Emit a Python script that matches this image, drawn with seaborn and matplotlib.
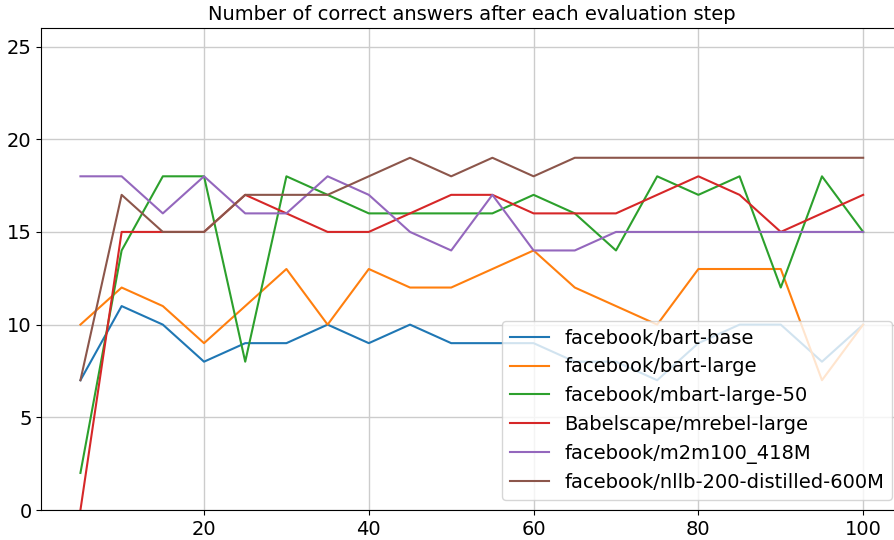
import matplotlib
matplotlib.use("Agg")
import matplotlib.pyplot as plt
import seaborn as sns
import pandas as pd

steps = [5, 10, 15, 20, 25, 30, 35, 40, 45, 50, 55, 60, 65, 70, 75, 80, 85, 90, 95, 100]

models = [
    "facebook/bart-base",
    "facebook/bart-large",
    "facebook/mbart-large-50",
    "Babelscape/mrebel-large",
    "facebook/m2m100_418M",
    "facebook/nllb-200-distilled-600M",
]

bart_base = [7, 11, 10, 8, 9, 9, 10, 9, 10, 9, 9, 9, 8, 8, 7, 9, 10, 10, 8, 10]
bart_large = [10, 12, 11, 9, 11, 13, 10, 13, 12, 12, 13, 14, 12, 11, 10, 13, 13, 13, 7, 10]
mbart_large_50 = [2, 14, 18, 18, 8, 18, 17, 16, 16, 16, 16, 17, 16, 14, 18, 17, 18, 12, 18, 15]
mrebel_large = [0, 15, 15, 15, 17, 16, 15, 15, 16, 17, 17, 16, 16, 16, 17, 18, 17, 15, 16, 17]
m2m100_418m = [18, 18, 16, 18, 16, 16, 18, 17, 15, 14, 17, 14, 14, 15, 15, 15, 15, 15, 15, 15]
nllb_600m = [7, 17, 15, 15, 17, 17, 17, 18, 19, 18, 19, 18, 19, 19, 19, 19, 19, 19, 19, 19]

series = [bart_base, bart_large, mbart_large_50, mrebel_large, m2m100_418m, nllb_600m]

rows = []
for name, vals in zip(models, series):
    for s, v in zip(steps, vals):
        rows.append({"step": s, "correct": v, "model": name})
df = pd.DataFrame(rows)

plt.rcParams["font.size"] = 14
plt.rcParams["font.family"] = ["DejaVu Sans"]

fig = plt.figure(figsize=(8.94, 5.40), dpi=100)
ax = fig.add_axes([41.3 / 894, 30 / 540, 861 / 894, 482 / 540])

sns.lineplot(data=df, x="step", y="correct", hue="model", hue_order=models,
             palette="tab10", linewidth=1.5, ax=ax, legend=True)

ax.set_xlim(0.25, 104.75)
ax.set_ylim(0, 26)
ax.set_yticks([0, 5, 10, 15, 20, 25])
ax.set_xticks([20, 40, 60, 80, 100])
ax.grid(True, color="#cccccc", linewidth=1.0)
ax.set_axisbelow(True)
ax.set_xlabel("")
ax.set_ylabel("")
ax.tick_params(labelsize=14)
ax.set_title("Number of correct answers after each evaluation step", fontsize=14)

leg = ax.legend(loc="lower right", bbox_to_anchor=(892 / 894, 40 / 540),
                bbox_transform=fig.transFigure, fontsize=14, borderaxespad=0)

fig.savefig("out.png", dpi=100)
